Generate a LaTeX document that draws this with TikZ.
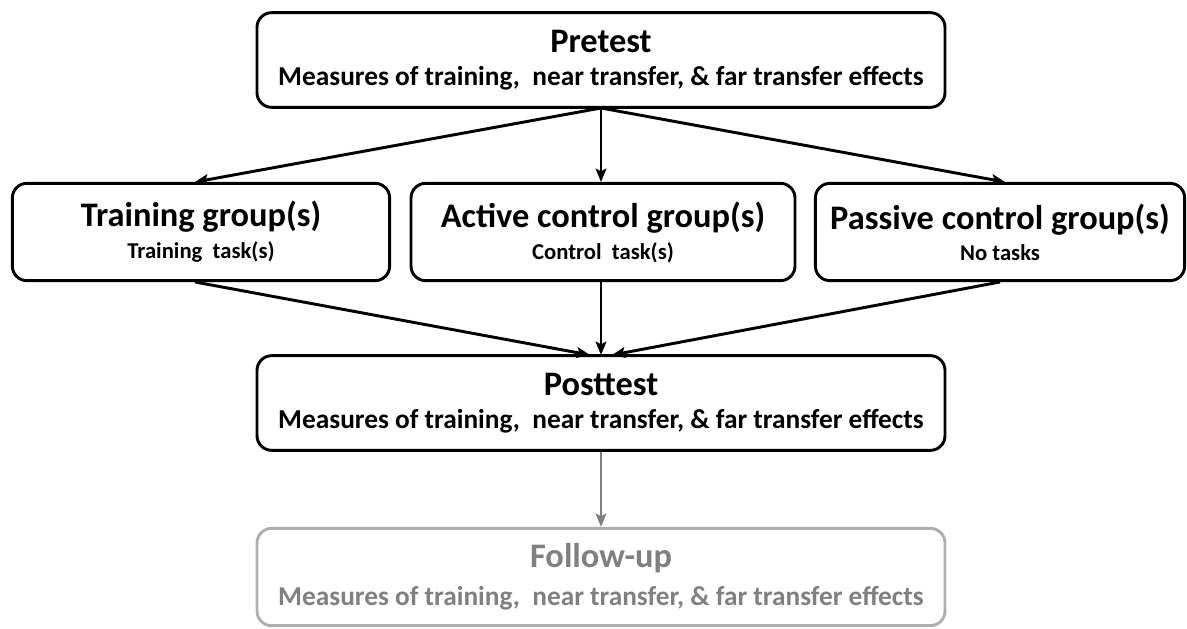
\documentclass[tikz,border=0pt]{standalone}
\usepackage{fontspec}
\setmainfont{Carlito}
\usetikzlibrary{arrows.meta}
\definecolor{fgray}{RGB}{128,128,128}
\definecolor{bgray}{RGB}{175,175,175}
\newcommand{\ttl}{\fontsize{25.8}{29}\selectfont\bfseries}
\newcommand{\sbt}{\fontsize{20.5}{23}\selectfont\bfseries}
\newcommand{\gsbt}{\fontsize{17}{21}\selectfont\bfseries}
\begin{document}
\begin{tikzpicture}[x=0.75pt,y=-0.75pt,
  box/.style={draw=black,line width=2.2pt,rounded corners=11pt,fill=white,align=center,inner sep=0pt},
  arr/.style={line width=2.2pt,-{Stealth[length=10pt,width=8pt,inset=2pt]}}]
\useasboundingbox (0,0) rectangle (1187,628);
\node[box,minimum width=516pt,minimum height=71pt] (pre) at (601,60) {\ttl Pretest\\[9pt]\sbt Measures of training,\ \ near transfer, \& far transfer effects};
\node[box,minimum width=283pt,minimum height=73pt] (tr) at (201,232) {\ttl Training group(s)\\[6pt]\gsbt Training\ \ task(s)};
\node[box,minimum width=288pt,minimum height=73pt] (ac) at (603,232) {\ttl Active control group(s)\\[6pt]\gsbt Control\ \ task(s)};
\node[box,minimum width=277pt,minimum height=73pt] (pa) at (1000,232) {\ttl Passive control group(s)\\[6pt]\gsbt No tasks};
\node[box,minimum width=516pt,minimum height=71pt] (post) at (601,403) {\ttl Posttest\\[9pt]\sbt Measures of training,\ \ near transfer, \& far transfer effects};
\node[box,draw=bgray,text=fgray,minimum width=516pt,minimum height=73pt] (fu) at (601,577) {\ttl Follow-up\\[9pt]\sbt Measures of training,\ \ near transfer, \& far transfer effects};
\coordinate (preb) at (601,108);
\draw[arr] (preb) -- (195,182);
\draw[arr] (preb) -- (601,182);
\draw[arr] (preb) -- (1005,182);
\coordinate (postt) at (601,355);
\draw[arr] (195,282) -- (590,355);
\draw[arr] (601,282) -- (postt);
\draw[arr] (1000,282) -- (612,355);
\draw[arr,draw=fgray,fill=fgray] (post.south) -- (fu.north);
\end{tikzpicture}
\end{document}
